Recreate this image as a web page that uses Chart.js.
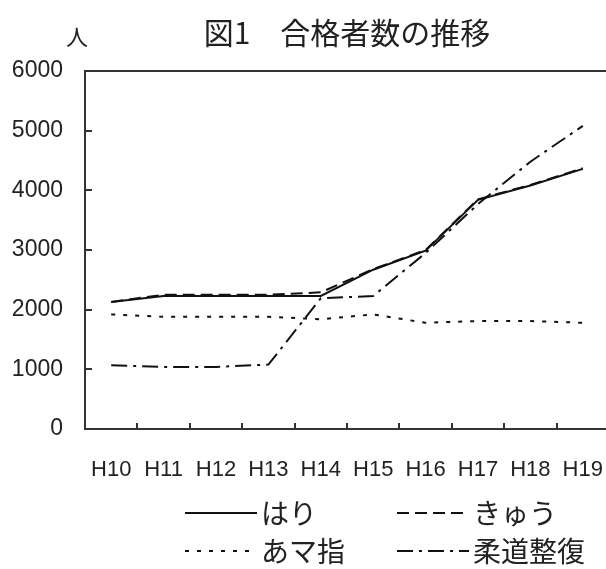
<!DOCTYPE html>
<html lang="ja">
<head>
<meta charset="utf-8">
<title>図1 合格者数の推移</title>
<script src="https://cdn.jsdelivr.net/npm/chart.js@4.4.1/dist/chart.umd.min.js"></script>
<style>
  html, body { margin: 0; padding: 0; background: #fff; overflow: hidden; }
  #wrap { width: 606px; height: 569px; overflow: hidden; position: relative; }
  canvas { display: block; }
</style>
</head>
<body>
<div id="wrap"><canvas id="chart" width="620" height="569"></canvas></div>
<script>
// Exam years (Heisei era)
const years = ['H10', 'H11', 'H12', 'H13', 'H14', 'H15', 'H16', 'H17', 'H18', 'H19'];

// Number of successful candidates per license
const hari   = [2130, 2230, 2230, 2230, 2230, 2670, 2990, 3840, 4080, 4360];
const kyu    = [2130, 2250, 2250, 2250, 2290, 2680, 3000, 3850, 4090, 4370];
const amashi = [1920, 1880, 1880, 1880, 1840, 1920, 1780, 1810, 1810, 1780];
const judo   = [1070, 1040, 1040, 1080, 2190, 2230, 2950, 3770, 4480, 5080];

const seriesNames = ['はり', 'きゅう', 'あマ指', '柔道整復'];

// Value axis range and step
const yMin = 0;
const yMax = 6000;
const yStep = 1000;
const yUnit = '人';

const LINE = '#111';
const AXIS = '#333';
const TEXT = '#222';
const JP = '"Noto Sans CJK JP", "Noto Sans", sans-serif';
const NUM = '"Liberation Sans", Arial, sans-serif';

// Closed frame plus short inward tick marks on both axes
const framePlugin = {
  id: 'frameTicks',
  beforeDatasetsDraw(chart) {
    const { ctx, chartArea: a, scales: { x, y } } = chart;
    ctx.save();
    ctx.strokeStyle = AXIS;
    ctx.lineWidth = 2;
    ctx.beginPath();
    ctx.moveTo(a.left, a.top);
    ctx.lineTo(a.right, a.top);
    ctx.lineTo(a.right, a.bottom);
    ctx.stroke();
    ctx.beginPath();
    y.ticks.forEach((t, i) => {
      const py = Math.round(y.getPixelForTick(i));
      ctx.moveTo(a.left, py);
      ctx.lineTo(a.left + 7, py);
    });
    for (let i = 0; i < x.ticks.length - 1; i++) {
      const px = Math.round((x.getPixelForTick(i) + x.getPixelForTick(i + 1)) / 2);
      ctx.moveTo(px, a.bottom);
      ctx.lineTo(px, a.bottom - 6);
    }
    ctx.stroke();
    ctx.restore();
  }
};

// Unit label above the value axis and a two-column line-style legend
const legendPlugin = {
  id: 'lineLegend',
  afterDraw(chart) {
    const { ctx, chartArea: a } = chart;
    ctx.save();
    ctx.fillStyle = TEXT;
    ctx.font = '22px ' + JP;
    ctx.textAlign = 'center';
    ctx.textBaseline = 'middle';
    ctx.fillText(yUnit, a.left - 8, a.top - 34);

    const colX = [185, 397];
    const rowY = [513, 551];
    const sampleLen = 72;
    ctx.font = '28px ' + JP;
    ctx.textAlign = 'left';
    chart.data.datasets.forEach((ds, i) => {
      const cx = colX[i % 2];
      const cy = rowY[Math.floor(i / 2)];
      ctx.strokeStyle = ds.borderColor;
      ctx.lineWidth = ds.borderWidth;
      ctx.setLineDash(ds.borderDash || []);
      ctx.beginPath();
      ctx.moveTo(cx, cy);
      ctx.lineTo(cx + sampleLen, cy);
      ctx.stroke();
      ctx.setLineDash([]);
      ctx.fillText(ds.label, cx + sampleLen + 4, cy);
    });
    ctx.restore();
  }
};

const dashes = [[], [12, 6], [4, 8], [16, 6, 3, 6]];
const values = [hari, kyu, amashi, judo];

new Chart(document.getElementById('chart'), {
  type: 'line',
  data: {
    labels: years,
    datasets: values.map((v, i) => ({
      label: seriesNames[i],
      data: v,
      borderColor: LINE,
      borderWidth: 2,
      borderDash: dashes[i],
      pointRadius: 0,
      tension: 0,
      fill: false
    }))
  },
  options: {
    responsive: false,
    animation: false,
    devicePixelRatio: 1,
    layout: { padding: { left: 0, right: 11, top: 0, bottom: 75 } },
    plugins: {
      legend: { display: false },
      tooltip: { enabled: false },
      title: {
        display: true,
        text: '図1　合格者数の推移',
        fullSize: false,
        color: TEXT,
        font: { family: JP, size: 30, weight: 'normal', lineHeight: 1.2 },
        padding: { top: 15, bottom: 20 }
      }
    },
    scales: {
      x: {
        offset: true,
        // grid hidden; tickLength only sets the gap between axis and labels
        grid: { display: false, drawTicks: true, tickLength: 26, offset: true },
        border: { display: true, color: AXIS, width: 2 },
        ticks: {
          color: TEXT,
          font: { family: NUM, size: 22 },
          padding: 2,
          maxRotation: 0,
          autoSkip: false
        },
        afterFit(s) { s.height = 65; }
      },
      y: {
        min: yMin,
        max: yMax,
        grid: { display: false, drawTicks: false },
        border: { display: true, color: AXIS, width: 2 },
        ticks: {
          stepSize: yStep,
          color: TEXT,
          font: { family: NUM, size: 23 },
          padding: 22,
          callback: v => String(v)
        },
        afterFit(s) { s.width = 85; }
      }
    }
  },
  plugins: [framePlugin, legendPlugin]
});
</script>
</body>
</html>
